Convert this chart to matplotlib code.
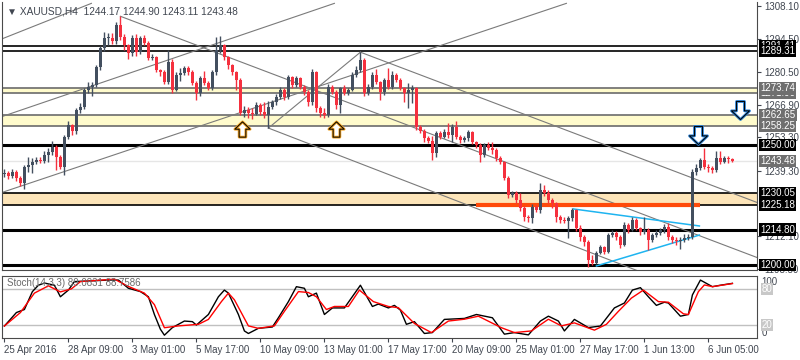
import matplotlib
matplotlib.use("Agg")
import matplotlib.pyplot as plt
from matplotlib.path import Path
import matplotlib.transforms as mtransforms

# H4 candles, 25 Apr 2016 -> 7 Jun 2016
first_open = 1238.0
closes = [
    1238.4, 1237.1, 1238.8, 1236.3, 1234.2, 1240.9, 1241.7, 1243.0, 1243.8, 1243.4,
    1245.9, 1247.2, 1249.2, 1245.1, 1240.9, 1253.4, 1258.4, 1255.9, 1264.7, 1265.9,
    1273.0, 1274.3, 1275.1, 1282.6, 1290.6, 1294.7, 1294.7, 1293.5, 1300.2, 1295.2,
    1291.8, 1288.5, 1294.7, 1288.9, 1294.7, 1292.7, 1286.4, 1286.8, 1281.4, 1280.5,
    1276.4, 1284.7, 1273.0, 1279.3, 1280.1, 1282.2, 1280.5, 1276.0, 1271.8, 1278.0,
    1276.0, 1274.0, 1280.5, 1289.7, 1291.8, 1286.8, 1283.5, 1280.5, 1277.2, 1263.4,
    1264.7, 1263.4, 1263.0, 1266.8, 1263.9, 1262.5, 1265.9, 1268.0, 1270.1, 1273.0,
    1270.1, 1278.5, 1275.1, 1278.0, 1274.3, 1272.2, 1268.0, 1280.5, 1265.5, 1263.4,
    1262.5, 1274.3, 1272.2, 1266.8, 1273.9, 1271.8, 1273.0, 1279.3, 1281.4, 1285.6,
    1271.8, 1274.3, 1279.3, 1276.4, 1272.2, 1277.2, 1274.3, 1279.3, 1277.2, 1273.9,
    1271.8, 1273.0, 1273.9, 1257.6, 1256.0, 1253.0, 1252.0, 1246.7, 1255.1, 1253.4,
    1255.5, 1254.2, 1257.6, 1253.4, 1252.2, 1253.0, 1255.5, 1251.3, 1250.1, 1245.9,
    1250.1, 1248.8, 1248.0, 1244.6, 1243.0, 1236.3, 1229.2, 1230.0, 1227.1, 1223.8,
    1220.0, 1219.6, 1224.2, 1223.0, 1231.3, 1230.0, 1227.1, 1225.9, 1220.0, 1218.8,
    1218.5, 1219.6, 1222.9, 1215.4, 1211.7, 1209.6, 1202.0, 1201.0, 1205.0, 1207.5,
    1205.4, 1212.5, 1213.3, 1211.7, 1208.3, 1216.7, 1214.6, 1218.8, 1215.4, 1213.8,
    1214.6, 1210.4, 1212.5, 1213.3, 1214.6, 1215.9, 1211.7, 1210.4, 1210.0, 1210.4,
    1211.3, 1211.7, 1238.8, 1240.5, 1243.8, 1240.9, 1240.5, 1239.6, 1244.6, 1243.0,
    1244.6, 1244.17, 1243.48,
]
highs = [
    1240.0, 1239.2, 1240.2, 1239.5, 1237.0, 1241.8, 1245.0, 1244.5, 1245.0, 1245.3,
    1247.5, 1249.0, 1252.0, 1250.0, 1246.0, 1254.5, 1260.0, 1259.0, 1265.5, 1267.5,
    1274.0, 1276.5, 1276.5, 1283.5, 1291.5, 1297.5, 1297.0, 1297.0, 1301.5, 1303.9,
    1296.5, 1292.5, 1296.0, 1296.5, 1295.5, 1296.0, 1293.5, 1288.0, 1287.5, 1282.0,
    1281.5, 1289.7, 1286.0, 1280.5, 1282.5, 1283.0, 1283.0, 1281.5, 1277.0, 1279.0,
    1281.0, 1277.0, 1281.5, 1295.1, 1295.5, 1292.5, 1287.5, 1284.0, 1281.0, 1278.0,
    1266.5, 1266.0, 1265.5, 1268.0, 1267.5, 1268.0, 1268.5, 1269.0, 1271.5, 1274.5,
    1273.8, 1279.5, 1279.0, 1279.0, 1278.5, 1275.0, 1273.0, 1282.0, 1281.0, 1266.5,
    1265.5, 1275.5, 1275.0, 1273.0, 1274.5, 1275.0, 1274.0, 1280.5, 1283.0, 1288.9,
    1286.5, 1275.5, 1280.5, 1282.0, 1277.0, 1278.0, 1282.2, 1281.0, 1280.0, 1278.0,
    1274.5, 1276.0, 1275.0, 1274.5, 1258.5, 1257.0, 1254.0, 1254.0, 1256.0, 1256.0,
    1257.0, 1259.3, 1259.0, 1260.1, 1254.5, 1254.0, 1256.5, 1256.0, 1252.0, 1251.0,
    1251.0, 1251.5, 1251.5, 1249.0, 1245.5, 1243.5, 1237.0, 1231.0, 1231.0, 1230.0,
    1224.5, 1221.0, 1225.5, 1225.0, 1234.2, 1233.4, 1231.5, 1228.0, 1226.5, 1221.0,
    1220.0, 1220.5, 1224.0, 1223.5, 1216.5, 1212.5, 1210.5, 1204.0, 1206.0, 1208.5,
    1208.0, 1213.5, 1214.5, 1214.0, 1212.5, 1218.0, 1217.5, 1220.0, 1219.5, 1216.0,
    1220.0, 1215.5, 1213.5, 1214.5, 1215.5, 1217.0, 1217.5, 1212.5, 1211.5, 1211.5,
    1213.0, 1213.0, 1240.0, 1242.0, 1244.5, 1248.8, 1242.0, 1241.5, 1247.6, 1247.6,
    1245.5, 1245.5, 1244.9,
]
lows = [
    1236.8, 1236.0, 1236.4, 1235.2, 1232.8, 1231.7, 1239.0, 1238.6, 1242.0, 1242.5,
    1242.5, 1243.0, 1246.0, 1239.6, 1240.0, 1237.6, 1252.5, 1254.5, 1254.8, 1263.5,
    1265.0, 1272.0, 1270.6, 1274.5, 1281.5, 1289.5, 1292.0, 1292.5, 1292.5, 1294.0,
    1290.0, 1286.0, 1287.5, 1287.5, 1288.0, 1292.0, 1285.5, 1285.5, 1280.5, 1279.0,
    1275.5, 1275.5, 1272.0, 1272.5, 1277.0, 1279.5, 1279.5, 1275.0, 1269.0, 1270.5,
    1275.0, 1273.0, 1273.0, 1279.5, 1288.5, 1285.5, 1282.0, 1279.5, 1273.0, 1262.5,
    1262.0, 1261.5, 1261.0, 1262.5, 1262.5, 1261.5, 1257.2, 1265.0, 1267.0, 1269.5,
    1269.0, 1269.5, 1274.0, 1274.5, 1273.5, 1271.0, 1266.5, 1267.0, 1264.0, 1262.0,
    1261.5, 1262.0, 1271.5, 1265.0, 1263.4, 1271.0, 1271.0, 1272.5, 1278.5, 1280.5,
    1270.6, 1271.0, 1273.5, 1275.5, 1268.9, 1271.0, 1273.5, 1273.5, 1276.5, 1273.0,
    1268.0, 1265.5, 1267.5, 1256.5, 1255.0, 1251.5, 1251.0, 1243.8, 1245.0, 1252.5,
    1253.0, 1253.0, 1251.5, 1252.5, 1251.0, 1251.5, 1252.0, 1250.5, 1249.0, 1243.0,
    1245.0, 1248.0, 1246.5, 1243.5, 1242.0, 1235.5, 1228.0, 1228.5, 1226.0, 1222.5,
    1218.5, 1218.0, 1217.5, 1222.0, 1221.7, 1229.0, 1226.0, 1224.0, 1218.0, 1217.5,
    1217.5, 1211.3, 1218.5, 1214.0, 1210.0, 1208.0, 1199.2, 1199.8, 1200.5, 1204.5,
    1204.5, 1205.0, 1211.5, 1210.5, 1207.0, 1208.0, 1213.5, 1214.0, 1214.5, 1212.5,
    1213.0, 1206.2, 1209.5, 1211.5, 1212.5, 1213.5, 1210.5, 1209.0, 1208.5, 1206.5,
    1209.5, 1210.5, 1211.0, 1237.5, 1239.5, 1240.0, 1239.0, 1238.5, 1239.0, 1242.0,
    1242.5, 1242.5, 1243.1,
]

# stochastic (14,3,3), read at turning points: candle position, value
stoch_k_pos = [0, 3, 5, 7, 8.5, 10, 12.5, 14, 16, 17.5, 21, 26, 28.5, 31, 34, 36, 37.5, 39, 40,
               42, 43.5, 45, 47, 48, 51, 53.5, 55, 56, 58.5, 60, 61, 63.5, 67, 68.5, 71, 73,
               75, 76, 78, 80, 82, 85, 89, 92, 93.5, 96, 97.5, 99, 100.5, 102.5, 105, 107,
               110, 115, 118, 122, 125, 127.5, 131, 134, 136, 138.5, 140, 142.5, 146, 149,
               152.5, 155, 157, 159, 161, 163, 165, 166, 169, 171, 172, 174, 177, 179, 182]
stoch_k = [18.8, 41, 46, 75.5, 86, 89.6, 86, 67, 78, 92, 93, 94.5, 94.5, 81, 75.5, 67, 37.8,
           13.5, 3.7, 16.2, 21.6, 27, 26, 20.4, 37.8, 67, 78, 73, 37.8, 10.7, 6.5, 15, 17.2,
           32.4, 59, 83.6, 81, 67, 73, 37.8, 48.6, 48.6, 86, 51, 55, 48.6, 52.8, 45, 21.6,
           26, 6.5, 8, 29.7, 31.3, 37.8, 32.4, 5.4, 8, 4.2, 27, 35, 27, 10.7, 29.7, 16.2,
           18.8, 48.6, 56.7, 78, 82, 67, 52.8, 58, 56.7, 35, 37.8, 70, 94.5, 83.6, 86, 89.08]
stoch_d_pos = [0, 4, 7.5, 11, 14, 16.75, 19, 27.5, 31, 35, 37.5, 40, 43.5, 48.5, 51, 54.25,
               56, 57.5, 61, 63.5, 67.5, 70, 73.5, 76, 78, 80.5, 82.5, 86, 88.75, 92.25, 96,
               98.5, 102.5, 106.75, 111, 115, 118.5, 124.25, 127.5, 131.75, 136, 139.25,
               142.5, 147.5, 150.5, 153.5, 156.75, 159.75, 163.5, 166, 169.75, 171, 173.5,
               175, 177, 182]
stoch_d = [18.8, 41, 73, 85, 75, 80, 92, 96, 84, 73, 54, 16, 19, 21.6, 29.7, 59, 73, 62, 19,
           15, 19, 43, 75.5, 74, 67, 46, 51, 51, 78, 59, 51, 49, 23, 8, 27, 30, 35, 16, 8,
           10.7, 30, 19, 24, 12, 21.6, 43, 64.8, 78, 59, 58, 38.9, 37.8, 75.5, 86.5, 83.6,
           88.76]

# drawn objects
sr_black = [1291.41, 1289.31, 1230.05, 1225.18]
sr_bold = [1250.00, 1214.80, 1200.00]
yellow_zones = [(1271.90, 1273.74), (1258.25, 1262.65)]
orange_zone = (1225.18, 1230.05)
orange_seg = (118, 174, 1225.18)
last_price = 1243.48
# trend lines: (start idx, start price, end idx, end price)
gray_lines = [
    (-0.25, 1230.5, 140.5, 1309.3),
    (-0.25, 1262.2, 82.5, 1309.3),
    (-0.25, 1294.7, 21.75, 1309.3),
    (29.0, 1303.9, 188.5, 1202.9),
    (89.0, 1288.9, 188.5, 1225.9),
    (66.0, 1257.2, 160.0, 1196.5),
    (66.0, 1257.2, 89.0, 1288.9),
]
blue_lines = [(142.25, 1223.4, 173.75, 1216.3), (148.0, 1199.6, 173.75, 1212.5)]
up_arrows = [(59.3, 1256.8), (83.0, 1256.8)]
down_arrows = [(173.5, 1254.5), (183.8, 1264.8)]

price_ticks = [1308.10, 1294.50, 1280.50, 1266.90, 1253.30, 1239.30, 1212.10, 1198.50]
black_tags = [1291.41, 1289.31, 1250.00, 1230.05, 1225.18, 1214.80, 1200.00]
gray_tags = [1271.90, 1273.74, 1262.65, 1258.25, 1243.48]
date_pos = [0, 16, 32, 48, 64, 80, 96, 112, 128, 144, 160, 176]
date_labels = ["25 Apr 2016", "28 Apr 09:00", "3 May 01:00", "5 May 17:00", "10 May 09:00",
               "13 May 01:00", "17 May 17:00", "20 May 09:00", "25 May 01:00", "27 May 17:00",
               "1 Jun 13:00", "6 Jun 05:00"]

BULL = "#434f5f"
BEAR = "#f5303e"
TXT = "#404650"
FS = 7.0

plt.rcParams["font.family"] = ["Liberation Sans", "DejaVu Sans"]
fig = plt.figure(figsize=(8, 3.6), dpi=100)
ax = fig.add_axes([0.0025, 0.25, 0.944, 0.744])
axs = fig.add_axes([0.0025, 0.061, 0.944, 0.172])

xmin, xmax = -0.6, 188.2
ax.set_xlim(xmin, xmax)
ax.set_ylim(1197.9, 1309.8)

# zones and lines
for lo, hi in yellow_zones:
    ax.axhspan(lo, hi, color="#fffbcc", zorder=1, lw=0)
    ax.axhline(lo, color="#6b6b6b", lw=1.2, zorder=2)
    ax.axhline(hi, color="#6b6b6b", lw=1.2, zorder=2)
ax.axhspan(orange_zone[0], orange_zone[1], color="#fde5b9", zorder=1, lw=0)
for p in sr_black:
    ax.axhline(p, color="black", lw=1.2, zorder=2)
for p in sr_bold:
    ax.axhline(p, color="black", lw=2.2, zorder=2)
ax.axhline(last_price, color="#e6e6e6", lw=1, zorder=1.5)
ax.plot([orange_seg[0], orange_seg[1]], [orange_seg[2]] * 2, color="#ff4a0a", lw=3, zorder=2.5,
        solid_capstyle="butt")
for x0, y0, x1, y1 in gray_lines:
    ax.plot([x0, x1], [y0, y1], color="#7a7a7a", lw=0.8, zorder=2)
for x0, y0, x1, y1 in blue_lines:
    ax.plot([x0, x1], [y0, y1], color="#1eb4f0", lw=1.1, zorder=2.5)

# candles
opens = [first_open] + closes[:-1]
idx = list(range(len(closes)))
cols = [BULL if c >= o else BEAR for o, c in zip(opens, closes)]
ax.vlines(idx, lows, highs, colors=cols, lw=1, zorder=3)
bottoms = [min(o, c) for o, c in zip(opens, closes)]
heights = [max(abs(c - o), 0.35) for o, c in zip(opens, closes)]
ax.bar(idx, heights, bottom=bottoms, width=0.72, color=cols, lw=0, zorder=3.5)

# hollow arrows
up_path = Path([(-0.22, -0.5), (0.22, -0.5), (0.22, 0.02), (0.5, 0.02), (0, 0.5),
                (-0.5, 0.02), (-0.22, 0.02), (-0.22, -0.5)], closed=True)
down_path = Path([(x, -y) for x, y in up_path.vertices], closed=True)
for x, y in up_arrows:
    ax.plot([x], [y], marker=up_path, ms=11, mfc="white", mec="#f0a020", mew=2.0, zorder=4)
    ax.plot([x], [y], marker=up_path, ms=11, mfc="none", mec="black", mew=0.7, zorder=4.1)
for x, y in down_arrows:
    ax.plot([x], [y], marker=down_path, ms=13, mfc="white", mec="#2a7fd0", mew=2.0, zorder=4)
    ax.plot([x], [y], marker=down_path, ms=13, mfc="none", mec="black", mew=0.7, zorder=4.1)

# right price axis
ax.yaxis.tick_right()
ax.set_yticks(price_ticks)
ax.set_yticklabels([f"{t:.2f}" for t in price_ticks])
ax.tick_params(axis="y", labelsize=FS, colors=TXT, length=3, pad=2)
ax.set_xticks([])
ax.spines["top"].set_visible(False)
for s in ["left", "right", "bottom"]:
    ax.spines[s].set_color("#4a4a4a")

tr = mtransforms.blended_transform_factory(ax.transAxes, ax.transData)
for p in gray_tags:
    ax.text(1.004, p, f"{p:.2f}", transform=tr, fontsize=FS, color="white", va="center",
            ha="left", zorder=10, clip_on=False,
            bbox=dict(boxstyle="square,pad=0.12", fc="#6f6f6f", ec="none"))
for p in black_tags:
    ax.text(1.004, p, f"{p:.2f}", transform=tr, fontsize=FS, color="white", va="center",
            ha="left", zorder=10, clip_on=False,
            bbox=dict(boxstyle="square,pad=0.12", fc="black", ec="none"))

ax.text(0.006, 0.985, "\u25bc XAUUSD,H4  1244.17 1244.90 1243.11 1243.48", transform=ax.transAxes,
        fontsize=FS + 0.3, color=TXT, va="top", ha="left")

# stochastic panel
axs.set_xlim(xmin, xmax)
axs.set_ylim(-1, 101)
axs.axhline(80, color="#c0c0c0", lw=1)
axs.axhline(20, color="#c0c0c0", lw=1)
axs.plot(stoch_k_pos, stoch_k, color="black", lw=1)
axs.plot(stoch_d_pos, stoch_d, color="#ff0000", lw=1)
axs.set_yticks([])
for sp in axs.spines.values():
    sp.set_color("#4a4a4a")
axs.text(0.006, 0.97, "Stoch(14,3,3) 89.0831 88.7586", transform=axs.transAxes,
         fontsize=FS, color="#6a6a6a", va="top", ha="left")
trs = mtransforms.blended_transform_factory(axs.transAxes, axs.transData)
axs.text(1.006, 92, "100", transform=trs, fontsize=FS, color=TXT, va="center", clip_on=False)
axs.text(1.006, 8, "0", transform=trs, fontsize=FS, color=TXT, va="center", clip_on=False)
for lv in [80, 20]:
    axs.text(1.006, lv, f"{lv}", transform=trs, fontsize=FS, color="white", va="center",
             clip_on=False, bbox=dict(boxstyle="square,pad=0.1", fc="#c8c8c8", ec="none"))
axs.set_xticks(date_pos)
axs.set_xticklabels(date_labels, ha="left")
axs.tick_params(axis="x", labelsize=FS, colors=TXT, length=3, pad=2)

fig.savefig("out.png", dpi=100, facecolor="white")
